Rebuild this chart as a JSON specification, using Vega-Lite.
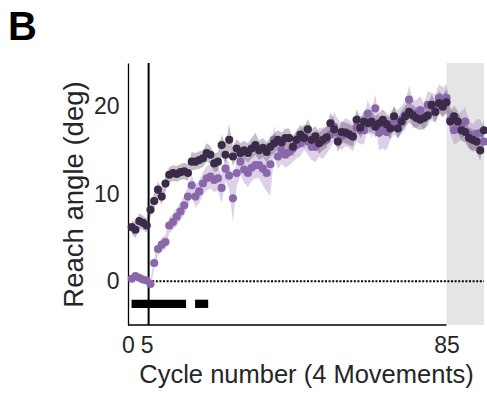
{
  "$schema": "https://vega.github.io/schema/vega-lite/v6.json",
  "autosize": "none",
  "width": 356,
  "height": 262,
  "padding": {"left": 128, "top": 63, "right": 3, "bottom": 75},
  "background": "white",
  "config": {
    "view": {"stroke": null},
    "font": "Liberation Sans",
    "axis": {
      "grid": false,
      "ticks": false,
      "domainColor": "#000000",
      "domainWidth": 1.3,
      "labelColor": "#262626",
      "titleColor": "#262626",
      "labelFont": "Liberation Sans",
      "titleFont": "Liberation Sans",
      "labelFontSize": 23,
      "titleFontSize": 25.5,
      "titleFontWeight": "normal"
    }
  },
  "title": {
    "text": "B",
    "fontSize": 40,
    "fontWeight": "bold",
    "font": "Liberation Sans",
    "color": "#000000",
    "anchor": "start",
    "frame": "group",
    "dx": -120,
    "offset": 14
  },
  "datasets": {
    "series": [
      {"g":"light","c":1,"y":0.3,"lo":-0.1,"hi":0.7},
      {"g":"light","c":2,"y":0.6,"lo":0.2,"hi":1.0},
      {"g":"light","c":3,"y":0.4,"lo":0.0,"hi":0.8},
      {"g":"light","c":4,"y":0.2,"lo":-0.2,"hi":0.6},
      {"g":"light","c":5,"y":0.1,"lo":-0.3,"hi":0.5},
      {"g":"light","c":6,"y":-0.3,"lo":-0.7,"hi":0.1},
      {"g":"light","c":7,"y":2.1,"lo":1.5,"hi":2.7},
      {"g":"light","c":8,"y":3.7,"lo":3.0,"hi":4.4},
      {"g":"light","c":9,"y":4.2,"lo":3.4,"hi":5.0},
      {"g":"light","c":10,"y":4.5,"lo":3.7,"hi":5.3},
      {"g":"light","c":11,"y":6.4,"lo":5.5,"hi":7.3},
      {"g":"light","c":12,"y":6.8,"lo":5.9,"hi":7.7},
      {"g":"light","c":13,"y":7.4,"lo":6.4,"hi":8.4},
      {"g":"light","c":14,"y":8.0,"lo":7.0,"hi":9.0},
      {"g":"light","c":15,"y":8.7,"lo":7.6,"hi":9.8},
      {"g":"light","c":16,"y":9.7,"lo":8.5,"hi":10.9},
      {"g":"light","c":17,"y":11.0,"lo":9.8,"hi":12.2},
      {"g":"light","c":18,"y":9.7,"lo":8.4,"hi":11.0},
      {"g":"light","c":19,"y":10.3,"lo":9.0,"hi":11.6},
      {"g":"light","c":20,"y":11.2,"lo":9.9,"hi":12.5},
      {"g":"light","c":21,"y":11.8,"lo":10.4,"hi":13.2},
      {"g":"light","c":22,"y":12.0,"lo":10.6,"hi":13.4},
      {"g":"light","c":23,"y":11.6,"lo":10.2,"hi":13.0},
      {"g":"light","c":24,"y":11.8,"lo":10.4,"hi":13.2},
      {"g":"light","c":25,"y":10.7,"lo":9.0,"hi":12.2},
      {"g":"light","c":26,"y":12.9,"lo":11.5,"hi":14.3},
      {"g":"light","c":27,"y":12.1,"lo":10.6,"hi":13.6},
      {"g":"light","c":28,"y":9.5,"lo":6.8,"hi":11.5},
      {"g":"light","c":29,"y":12.4,"lo":10.9,"hi":13.9},
      {"g":"light","c":30,"y":13.7,"lo":12.2,"hi":15.2},
      {"g":"light","c":31,"y":12.8,"lo":11.3,"hi":14.3},
      {"g":"light","c":32,"y":12.4,"lo":10.8,"hi":14.0},
      {"g":"light","c":33,"y":13.0,"lo":11.5,"hi":14.5},
      {"g":"light","c":34,"y":13.3,"lo":11.8,"hi":14.8},
      {"g":"light","c":35,"y":13.3,"lo":11.8,"hi":14.8},
      {"g":"light","c":36,"y":12.9,"lo":11.0,"hi":14.5},
      {"g":"light","c":37,"y":12.4,"lo":10.3,"hi":14.0},
      {"g":"light","c":38,"y":13.4,"lo":9.8,"hi":14.9},
      {"g":"light","c":39,"y":16.2,"lo":14.6,"hi":17.8},
      {"g":"light","c":40,"y":14.3,"lo":12.8,"hi":15.8},
      {"g":"light","c":41,"y":15.0,"lo":13.5,"hi":16.5},
      {"g":"light","c":42,"y":14.5,"lo":13.0,"hi":16.0},
      {"g":"light","c":43,"y":14.8,"lo":13.3,"hi":16.3},
      {"g":"light","c":44,"y":15.2,"lo":13.7,"hi":16.7},
      {"g":"light","c":45,"y":15.6,"lo":14.1,"hi":17.1},
      {"g":"light","c":46,"y":15.8,"lo":14.3,"hi":17.3},
      {"g":"light","c":47,"y":16.6,"lo":15.1,"hi":18.1},
      {"g":"light","c":48,"y":16.0,"lo":14.5,"hi":17.5},
      {"g":"light","c":49,"y":15.4,"lo":13.9,"hi":16.9},
      {"g":"light","c":50,"y":15.4,"lo":13.6,"hi":17.0},
      {"g":"light","c":51,"y":16.0,"lo":14.3,"hi":17.6},
      {"g":"light","c":52,"y":16.0,"lo":14.0,"hi":17.6},
      {"g":"light","c":53,"y":16.2,"lo":14.6,"hi":17.8},
      {"g":"light","c":54,"y":16.8,"lo":15.2,"hi":18.4},
      {"g":"light","c":55,"y":17.7,"lo":16.1,"hi":19.3},
      {"g":"light","c":56,"y":17.0,"lo":15.4,"hi":18.6},
      {"g":"light","c":57,"y":16.6,"lo":15.0,"hi":18.2},
      {"g":"light","c":58,"y":17.1,"lo":15.5,"hi":18.7},
      {"g":"light","c":59,"y":16.9,"lo":15.3,"hi":18.5},
      {"g":"light","c":60,"y":16.5,"lo":14.9,"hi":18.1},
      {"g":"light","c":61,"y":17.6,"lo":16.0,"hi":19.2},
      {"g":"light","c":62,"y":17.3,"lo":15.7,"hi":18.9},
      {"g":"light","c":63,"y":17.3,"lo":15.7,"hi":18.9},
      {"g":"light","c":64,"y":19.2,"lo":17.6,"hi":20.8},
      {"g":"light","c":65,"y":18.0,"lo":16.4,"hi":19.6},
      {"g":"light","c":66,"y":19.8,"lo":18.2,"hi":21.4},
      {"g":"light","c":67,"y":17.0,"lo":15.0,"hi":18.6},
      {"g":"light","c":68,"y":17.4,"lo":15.2,"hi":19.0},
      {"g":"light","c":69,"y":17.1,"lo":15.0,"hi":18.7},
      {"g":"light","c":70,"y":17.8,"lo":16.2,"hi":19.4},
      {"g":"light","c":71,"y":18.4,"lo":16.8,"hi":20.0},
      {"g":"light","c":72,"y":18.0,"lo":16.4,"hi":19.6},
      {"g":"light","c":73,"y":18.5,"lo":16.9,"hi":20.1},
      {"g":"light","c":74,"y":19.0,"lo":17.4,"hi":20.6},
      {"g":"light","c":75,"y":20.8,"lo":19.2,"hi":22.4},
      {"g":"light","c":76,"y":19.2,"lo":17.6,"hi":20.8},
      {"g":"light","c":77,"y":19.2,"lo":17.6,"hi":20.8},
      {"g":"light","c":78,"y":19.6,"lo":18.0,"hi":21.2},
      {"g":"light","c":79,"y":18.8,"lo":17.2,"hi":20.4},
      {"g":"light","c":80,"y":20.2,"lo":18.6,"hi":21.8},
      {"g":"light","c":81,"y":20.0,"lo":18.4,"hi":21.6},
      {"g":"light","c":82,"y":19.8,"lo":18.2,"hi":21.4},
      {"g":"light","c":83,"y":21.0,"lo":19.4,"hi":22.6},
      {"g":"light","c":84,"y":20.6,"lo":19.0,"hi":22.2},
      {"g":"light","c":85,"y":21.0,"lo":19.4,"hi":22.6},
      {"g":"light","c":86,"y":18.5,"lo":16.9,"hi":20.1},
      {"g":"light","c":87,"y":17.3,"lo":15.7,"hi":18.9},
      {"g":"light","c":88,"y":17.5,"lo":15.9,"hi":19.1},
      {"g":"light","c":89,"y":17.9,"lo":16.3,"hi":19.5},
      {"g":"light","c":90,"y":18.3,"lo":16.7,"hi":19.9},
      {"g":"light","c":91,"y":16.8,"lo":15.2,"hi":18.4},
      {"g":"light","c":92,"y":16.4,"lo":14.8,"hi":18.0},
      {"g":"light","c":93,"y":16.9,"lo":15.3,"hi":18.5},
      {"g":"light","c":94,"y":17.0,"lo":15.4,"hi":18.6},
      {"g":"light","c":95,"y":16.0,"lo":14.4,"hi":17.6},
      {"g":"dark","c":1,"y":6.2,"lo":5.4,"hi":7.0},
      {"g":"dark","c":2,"y":5.9,"lo":5.0,"hi":6.8},
      {"g":"dark","c":3,"y":6.9,"lo":6.0,"hi":7.8},
      {"g":"dark","c":4,"y":6.7,"lo":5.9,"hi":7.5},
      {"g":"dark","c":5,"y":6.4,"lo":5.6,"hi":7.2},
      {"g":"dark","c":6,"y":8.2,"lo":7.4,"hi":9.0},
      {"g":"dark","c":7,"y":9.2,"lo":8.3,"hi":10.1},
      {"g":"dark","c":8,"y":10.5,"lo":9.6,"hi":11.4},
      {"g":"dark","c":9,"y":9.7,"lo":8.8,"hi":10.6},
      {"g":"dark","c":10,"y":11.2,"lo":10.3,"hi":12.1},
      {"g":"dark","c":11,"y":12.2,"lo":11.3,"hi":13.1},
      {"g":"dark","c":12,"y":12.4,"lo":11.5,"hi":13.3},
      {"g":"dark","c":13,"y":12.3,"lo":11.4,"hi":13.2},
      {"g":"dark","c":14,"y":12.5,"lo":11.6,"hi":13.4},
      {"g":"dark","c":15,"y":12.6,"lo":11.7,"hi":13.6},
      {"g":"dark","c":16,"y":12.4,"lo":11.5,"hi":13.4},
      {"g":"dark","c":17,"y":13.7,"lo":12.7,"hi":14.8},
      {"g":"dark","c":18,"y":13.7,"lo":12.8,"hi":14.7},
      {"g":"dark","c":19,"y":13.9,"lo":12.9,"hi":14.9},
      {"g":"dark","c":20,"y":14.1,"lo":13.1,"hi":15.0},
      {"g":"dark","c":21,"y":14.7,"lo":13.7,"hi":15.8},
      {"g":"dark","c":22,"y":14.5,"lo":13.4,"hi":15.5},
      {"g":"dark","c":23,"y":13.5,"lo":12.5,"hi":14.6},
      {"g":"dark","c":24,"y":13.7,"lo":12.7,"hi":14.8},
      {"g":"dark","c":25,"y":15.6,"lo":14.5,"hi":16.8},
      {"g":"dark","c":26,"y":14.5,"lo":13.5,"hi":15.6},
      {"g":"dark","c":27,"y":16.2,"lo":15.0,"hi":18.0},
      {"g":"dark","c":28,"y":14.3,"lo":13.2,"hi":15.4},
      {"g":"dark","c":29,"y":15.2,"lo":14.1,"hi":16.3},
      {"g":"dark","c":30,"y":14.7,"lo":13.7,"hi":15.8},
      {"g":"dark","c":31,"y":15.0,"lo":14.0,"hi":16.1},
      {"g":"dark","c":32,"y":14.7,"lo":13.6,"hi":15.8},
      {"g":"dark","c":33,"y":15.2,"lo":14.1,"hi":16.4},
      {"g":"dark","c":34,"y":15.6,"lo":14.5,"hi":17.0},
      {"g":"dark","c":35,"y":15.0,"lo":13.9,"hi":16.1},
      {"g":"dark","c":36,"y":15.3,"lo":14.2,"hi":16.4},
      {"g":"dark","c":37,"y":14.8,"lo":13.7,"hi":15.9},
      {"g":"dark","c":38,"y":15.4,"lo":14.3,"hi":16.6},
      {"g":"dark","c":39,"y":15.8,"lo":14.7,"hi":16.9},
      {"g":"dark","c":40,"y":16.2,"lo":15.1,"hi":17.3},
      {"g":"dark","c":41,"y":15.9,"lo":14.8,"hi":17.0},
      {"g":"dark","c":42,"y":16.4,"lo":15.3,"hi":17.5},
      {"g":"dark","c":43,"y":16.4,"lo":15.3,"hi":17.5},
      {"g":"dark","c":44,"y":15.4,"lo":14.3,"hi":16.5},
      {"g":"dark","c":45,"y":16.2,"lo":15.1,"hi":17.3},
      {"g":"dark","c":46,"y":16.8,"lo":15.7,"hi":17.9},
      {"g":"dark","c":47,"y":16.4,"lo":15.2,"hi":17.6},
      {"g":"dark","c":48,"y":17.4,"lo":16.2,"hi":18.6},
      {"g":"dark","c":49,"y":16.2,"lo":15.0,"hi":17.4},
      {"g":"dark","c":50,"y":16.6,"lo":15.4,"hi":17.8},
      {"g":"dark","c":51,"y":15.8,"lo":14.6,"hi":17.0},
      {"g":"dark","c":52,"y":16.2,"lo":15.0,"hi":17.4},
      {"g":"dark","c":53,"y":16.5,"lo":15.3,"hi":17.7},
      {"g":"dark","c":54,"y":18.1,"lo":16.9,"hi":19.3},
      {"g":"dark","c":55,"y":17.4,"lo":16.2,"hi":18.6},
      {"g":"dark","c":56,"y":16.0,"lo":14.8,"hi":17.2},
      {"g":"dark","c":57,"y":17.1,"lo":15.9,"hi":18.3},
      {"g":"dark","c":58,"y":17.0,"lo":15.8,"hi":18.2},
      {"g":"dark","c":59,"y":16.8,"lo":15.6,"hi":18.0},
      {"g":"dark","c":60,"y":16.6,"lo":15.4,"hi":17.8},
      {"g":"dark","c":61,"y":18.5,"lo":17.3,"hi":19.7},
      {"g":"dark","c":62,"y":17.6,"lo":16.4,"hi":18.8},
      {"g":"dark","c":63,"y":18.3,"lo":17.1,"hi":19.5},
      {"g":"dark","c":64,"y":18.1,"lo":16.9,"hi":19.3},
      {"g":"dark","c":65,"y":18.3,"lo":17.1,"hi":19.5},
      {"g":"dark","c":66,"y":17.7,"lo":16.5,"hi":18.9},
      {"g":"dark","c":67,"y":18.1,"lo":16.9,"hi":19.3},
      {"g":"dark","c":68,"y":18.5,"lo":17.3,"hi":19.7},
      {"g":"dark","c":69,"y":18.0,"lo":16.8,"hi":19.2},
      {"g":"dark","c":70,"y":17.5,"lo":16.3,"hi":18.7},
      {"g":"dark","c":71,"y":18.9,"lo":17.7,"hi":20.1},
      {"g":"dark","c":72,"y":17.5,"lo":16.3,"hi":18.7},
      {"g":"dark","c":73,"y":18.3,"lo":17.1,"hi":19.5},
      {"g":"dark","c":74,"y":18.9,"lo":17.7,"hi":20.1},
      {"g":"dark","c":75,"y":19.4,"lo":18.2,"hi":20.6},
      {"g":"dark","c":76,"y":19.0,"lo":17.8,"hi":20.2},
      {"g":"dark","c":77,"y":18.7,"lo":17.5,"hi":19.9},
      {"g":"dark","c":78,"y":18.5,"lo":17.3,"hi":19.7},
      {"g":"dark","c":79,"y":18.7,"lo":17.5,"hi":19.9},
      {"g":"dark","c":80,"y":19.0,"lo":17.8,"hi":20.2},
      {"g":"dark","c":81,"y":20.2,"lo":19.0,"hi":21.4},
      {"g":"dark","c":82,"y":19.4,"lo":18.2,"hi":20.6},
      {"g":"dark","c":83,"y":20.4,"lo":19.2,"hi":21.8},
      {"g":"dark","c":84,"y":20.0,"lo":18.8,"hi":21.4},
      {"g":"dark","c":85,"y":20.5,"lo":19.2,"hi":22.0},
      {"g":"dark","c":86,"y":18.3,"lo":17.1,"hi":19.5},
      {"g":"dark","c":87,"y":18.9,"lo":17.7,"hi":20.1},
      {"g":"dark","c":88,"y":18.3,"lo":17.1,"hi":19.5},
      {"g":"dark","c":89,"y":17.3,"lo":16.1,"hi":18.5},
      {"g":"dark","c":90,"y":17.1,"lo":15.9,"hi":18.3},
      {"g":"dark","c":91,"y":16.4,"lo":15.2,"hi":17.6},
      {"g":"dark","c":92,"y":16.2,"lo":15.0,"hi":17.4},
      {"g":"dark","c":93,"y":16.0,"lo":14.8,"hi":17.2},
      {"g":"dark","c":94,"y":15.0,"lo":13.8,"hi":16.2},
      {"g":"dark","c":95,"y":17.3,"lo":16.1,"hi":18.5}
    ],
    "shade": [{"x1": 85, "x2": 95}],
    "onset": [{"x": 5.5}],
    "zero": [{"x1": 5.5, "x2": 95, "y": 0}],
    "baseline": [{"x1": 0, "x2": 85, "y": -5}],
    "sig": [
      {"x1": 0.95, "x2": 15.5, "y1": -2.1, "y2": -3.05},
      {"x1": 17.9, "x2": 21.4, "y1": -2.1, "y2": -3.05}
    ]
  },
  "layer": [
    {
      "data": {"name": "shade"},
      "mark": {"type": "rect", "color": "#e5e5e5"},
      "encoding": {
        "x": {"field": "x1", "type": "quantitative", "scale": {"domain": [0, 95], "nice": false, "zero": false},
          "axis": {"values": [0, 5, 85], "title": "Cycle number (4 Movements)", "domain": false, "labelPadding": 9, "titlePadding": 5, "labelFlush": false}},
        "x2": {"field": "x2"}
      }
    },
    {
      "data": {"name": "series"},
      "mark": {"type": "area", "opacity": 0.3, "interpolate": "linear"},
      "encoding": {
        "x": {"field": "c", "type": "quantitative"},
        "y": {"field": "lo", "type": "quantitative", "scale": {"domain": [-5, 25], "nice": false, "zero": false},
          "axis": {"values": [0, 10, 20], "title": "Reach angle (deg)", "labelPadding": 9, "titlePadding": 5, "titleFontSize": 27.5}},
        "y2": {"field": "hi"},
        "color": {"field": "g", "type": "nominal", "scale": {"domain": ["light", "dark"], "range": ["#8a67ab", "#3b2a48"]}, "legend": null},
        "detail": {"field": "g"}
      }
    },
    {
      "data": {"name": "baseline"},
      "mark": {"type": "rule", "color": "#000000", "strokeWidth": 1.5},
      "encoding": {
        "x": {"field": "x1", "type": "quantitative"},
        "x2": {"field": "x2"},
        "y": {"field": "y", "type": "quantitative"}
      }
    },
    {
      "data": {"name": "onset"},
      "mark": {"type": "rule", "color": "#000000", "strokeWidth": 2},
      "encoding": {"x": {"field": "x", "type": "quantitative"}}
    },
    {
      "data": {"name": "zero"},
      "mark": {"type": "rule", "color": "#000000", "strokeWidth": 2, "strokeDash": [2, 1.6]},
      "encoding": {
        "x": {"field": "x1", "type": "quantitative"},
        "x2": {"field": "x2"},
        "y": {"field": "y", "type": "quantitative"}
      }
    },
    {
      "data": {"name": "sig"},
      "mark": {"type": "rect", "color": "#000000"},
      "encoding": {
        "x": {"field": "x1", "type": "quantitative"},
        "x2": {"field": "x2"},
        "y": {"field": "y1", "type": "quantitative"},
        "y2": {"field": "y2"}
      }
    },
    {
      "data": {"name": "series"},
      "mark": {"type": "circle", "size": 66, "opacity": 1},
      "encoding": {
        "x": {"field": "c", "type": "quantitative"},
        "y": {"field": "y", "type": "quantitative"},
        "color": {"field": "g", "type": "nominal", "legend": null}
      }
    }
  ]
}
